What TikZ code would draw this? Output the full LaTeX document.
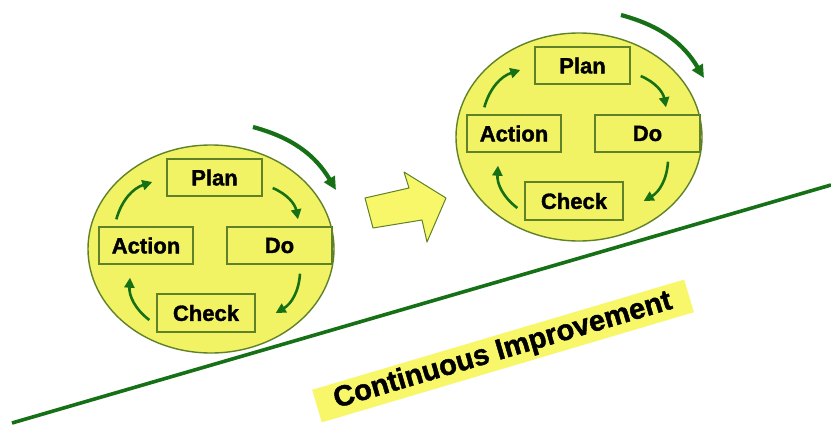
\documentclass[tikz,border=0pt]{standalone}
\usepackage{fontspec}
\setmainfont{Liberation Sans}
\newfontfamily\heavy[FakeBold=1.5]{Liberation Sans Bold}
\usetikzlibrary{arrows.meta,shapes.geometric}
\definecolor{cyel}{RGB}{242,243,100}
\definecolor{byel}{RGB}{247,247,105}
\definecolor{dgreen}{RGB}{22,112,22}
\definecolor{ogreen}{RGB}{95,130,40}
\tikzset{
  circ/.style={ellipse,draw=ogreen,line width=1.4pt,fill=cyel,minimum width=246pt,minimum height=208pt,inner sep=0pt},
  pbox/.style={draw=ogreen,line width=1.4pt,fill=cyel,minimum height=37pt,inner sep=0pt,font=\heavy\fontsize{22}{24}\selectfont},
  cyc/.style={draw=dgreen,line width=2.6pt,-{Triangle[length=10pt,width=10pt]},bend left=28},
  outer/.style={draw=dgreen,line width=4.2pt,-{Triangle[length=13pt,width=12pt]},bend left=22},
  pdca/.pic={
    \node[circ] (-c) at (211,249) {};
    \node[pbox,minimum width=95pt] (-plan) at (214.5,177.5) {Plan};
    \node[pbox,minimum width=94pt] (-action) at (146,245.5) {Action};
    \node[pbox,minimum width=105pt] (-do) at (279.5,245.5) {Do};
    \node[pbox,minimum width=98pt,minimum height=38pt] (-check) at (206,313) {Check};
    \draw[cyc] ([xshift=18pt,yshift=7pt]-action.north west) to ([xshift=-14pt,yshift=-4.5pt]-plan.west);
    \draw[cyc] ([xshift=10pt,yshift=-10.5pt]-plan.east) to ([xshift=18.5pt,yshift=7pt]-do.north);
    \draw[cyc] ([xshift=20.5pt,yshift=-9pt]-do.south) to ([xshift=20pt]-check.east);
    \draw[cyc] ([xshift=-7pt,yshift=-7pt]-check.west) to ([xshift=-16pt,yshift=-13pt]-action.south);
    \coordinate (-o1) at (253,127);
    \coordinate (-o2) at (336,190);
    \draw[outer] (-o1) to (-o2);
  }
}
\begin{document}
\begin{tikzpicture}[x=1pt,y=-1pt]
\useasboundingbox (0,0) rectangle (831,426);
\fill[white] (0,0) rectangle (831,426);
% ground line
\coordinate (g1) at (12,423);
\coordinate (g2) at (831,185);
\draw[dgreen,line width=3.6pt] (g1) -- (g2);
% cycles
\pic (L) at (0,0) {pdca};
\pic (R) at (368,-112) {pdca};
% block arrow
\draw[ogreen,line width=1pt,fill=byel,line join=round]
  (365,198) -- (409,188) -- (404,172) -- (446,198) -- (427,242) -- (422,220) -- (373,228) -- cycle;
% label band
\node[fill=byel,rotate=16.5,minimum width=388pt,minimum height=34pt,inner sep=0pt,
      font=\heavy\fontsize{29}{30}\selectfont] (band) at (503,351) {Continuous Improvement};
\end{tikzpicture}
\end{document}
